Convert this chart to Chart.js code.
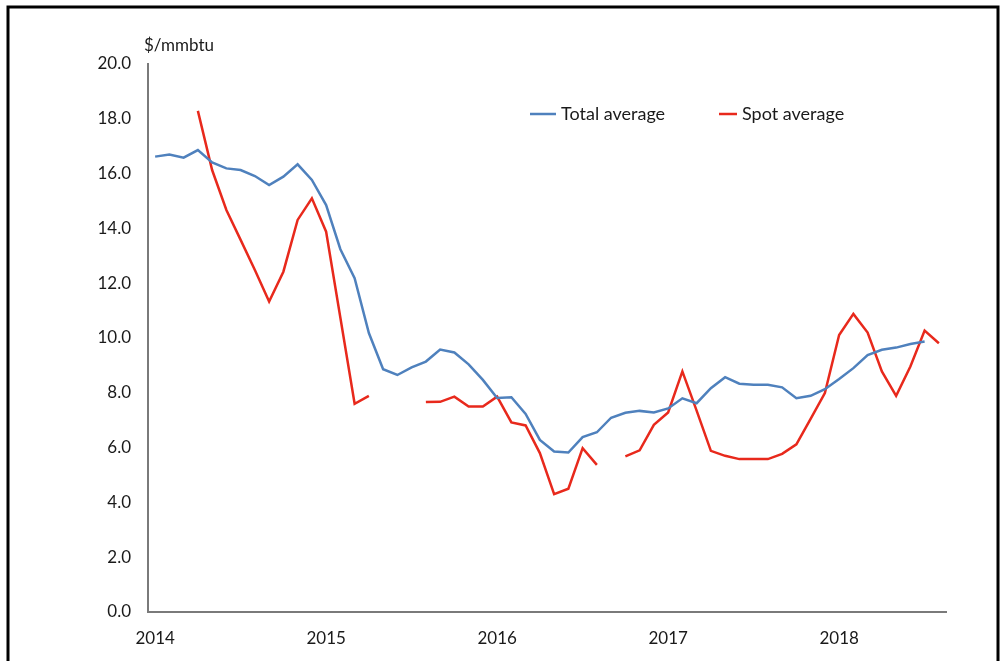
<!DOCTYPE html>
<html>
<head>
<meta charset="utf-8">
<script src="https://cdn.jsdelivr.net/npm/chart.js@4"></script>
<style>
  html, body { margin: 0; padding: 0; background: #fff; }
  #wrap { width: 1002px; height: 661px; position: relative; }
</style>
</head>
<body>
<div id="wrap"><canvas id="c-lng"></canvas></div>
<script>
// === DATA ===
const years = ['2014', '2015', '2016', '2017', '2018'];
const monthsInLastYear = 8; // Jan..Aug 2018

// monthly, Jan 2014 .. Aug 2018
const totalAvg = [
    16.62, 16.70, 16.58, 16.86, 16.41, 16.19, 16.13, 15.91, 15.58, 15.89, 16.34, 15.77,
    14.85, 13.24, 12.18, 10.18, 8.86, 8.65, 8.93, 9.14, 9.58, 9.47, 9.04, 8.47,
    7.81, 7.84, 7.23, 6.28, 5.86, 5.82, 6.38, 6.56, 7.09, 7.27, 7.34, 7.28,
    7.43, 7.80, 7.62, 8.17, 8.57, 8.33, 8.29, 8.29, 8.20, 7.80, 7.89, 8.13,
    8.50, 8.90, 9.38, 9.57, 9.65, 9.78, 9.87, null
];

const spotAvg = [
    null, null, null, 18.29, 16.13, 14.67, 13.58, 12.48, 11.33, 12.42, 14.31, 15.10,
    13.88, 10.74, 7.60, 7.89, null, null, null, 7.66, 7.67, 7.86, 7.50, 7.50,
    7.86, 6.92, 6.81, 5.80, 4.30, 4.50, 5.98, 5.37, null, 5.68, 5.90, 6.83,
    7.28, 8.78, 7.35, 5.88, 5.70, 5.58, 5.58, 5.58, 5.77, 6.12, 7.05, 7.99,
    10.11, 10.88, 10.20, 8.78, 7.89, 8.96, 10.27, 9.81
];

const yTicks = { min: 0, max: 20, step: 2 };
const unitLabel = '$/mmbtu';

// month labels like 2014-01
const months = [];
years.forEach((y, yi) => {
    const n = yi === years.length - 1 ? monthsInLastYear : 12;
    for (let m = 1; m <= n; m++) months.push(y + '-' + String(m).padStart(2, '0'));
});

// === STYLE ===
const FONT = 'Lato, "Liberation Sans", sans-serif';
const C = {
    blue: '#4f81bd',
    red: '#e8291c',
    axis: '#7a7a7a',
    text: '#1a1a1a',
};

// frame, unit label and legend drawn on the canvas
const decor = {
    id: 'decor',
    beforeDraw(chart) {
        const ctx = chart.ctx;
        ctx.save();
        ctx.fillStyle = '#fff';
        ctx.fillRect(0, 0, chart.width, chart.height);
        ctx.strokeStyle = '#000';
        ctx.lineWidth = 3;
        ctx.beginPath();
        ctx.moveTo(8, chart.height + 2);
        ctx.lineTo(8, 7);
        ctx.lineTo(998, 7);
        ctx.lineTo(998, chart.height + 2);
        ctx.stroke();
        ctx.restore();
    },
    afterDraw(chart) {
        const ctx = chart.ctx;
        ctx.save();
        ctx.font = '17px ' + FONT;
        ctx.fillStyle = C.text;
        ctx.textBaseline = 'middle';
        ctx.textAlign = 'left';
        ctx.fillText(unitLabel, 144, 46);

        // legend: short line sample then the series name
        ctx.font = '18px ' + FONT;
        const items = [{ x: 530, w: 26 }, { x: 719, w: 18 }];
        chart.data.datasets.forEach((ds, i) => {
            const { x, w } = items[i], y = 114;
            ctx.strokeStyle = ds.borderColor;
            ctx.lineWidth = 2.5;
            ctx.beginPath();
            ctx.moveTo(x, y);
            ctx.lineTo(x + w, y);
            ctx.stroke();
            ctx.fillText(ds.label, x + w + 5, y);
        });
        ctx.restore();
    }
};

const chart = new Chart(document.getElementById('c-lng'), {
    type: 'line',
    data: {
        labels: months,
        datasets: [
            { label: 'Total average', data: totalAvg, borderColor: C.blue, borderWidth: 2.5 },
            { label: 'Spot average', data: spotAvg, borderColor: C.red, borderWidth: 2.5 }
        ]
    },
    options: {
        responsive: true,
        maintainAspectRatio: false,
        animation: false,
        spanGaps: false,
        layout: { padding: { top: 64, right: 56, left: 0, bottom: 0 } },
        elements: {
            point: { radius: 0, hoverRadius: 0 },
            line: { tension: 0, borderCapStyle: 'butt', borderJoinStyle: 'miter' }
        },
        plugins: { legend: { display: false }, tooltip: { enabled: false } },
        scales: {
            x: {
                type: 'category',
                offset: true,
                grid: { display: false, drawTicks: false },
                border: { display: true, color: C.axis, width: 2 },
                ticks: {
                    autoSkip: false, maxRotation: 0, padding: 16,
                    color: C.text, font: { family: FONT, size: 17 },
                    callback(v) {
                        const l = this.getLabelForValue(v);
                        return l.endsWith('-01') ? l.slice(0, 4) : '';
                    }
                },
                afterFit(s) { s.height = 49; }
            },
            y: {
                min: yTicks.min, max: yTicks.max,
                grid: { display: false, drawTicks: false },
                border: { display: true, color: C.axis, width: 2 },
                ticks: {
                    stepSize: yTicks.step, padding: 17,
                    color: C.text, font: { family: FONT, size: 17 },
                    callback: v => v.toFixed(1)
                },
                afterFit(s) { s.width = 148; }
            }
        }
    },
    plugins: [decor]
});
</script>
</body>
</html>
